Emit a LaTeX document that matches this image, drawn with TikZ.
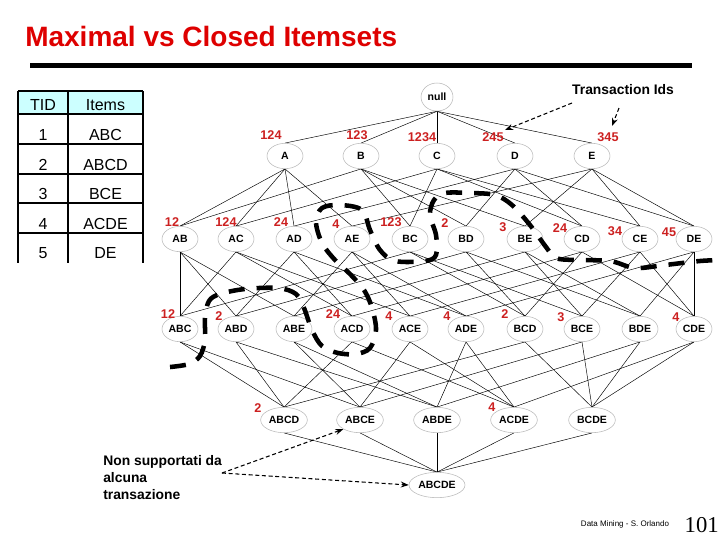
\documentclass[tikz,border=0pt]{standalone}
\usepackage{fontspec}
\setmainfont{Liberation Sans}
\newfontfamily\timesfont{Liberation Serif}
\usetikzlibrary{shapes.geometric,arrows.meta,backgrounds}
\definecolor{numred}{RGB}{204,32,32}
\definecolor{titred}{RGB}{222,0,0}
\definecolor{hdr}{RGB}{204,255,255}
\tikzset{
  itm/.style={ellipse, draw=black!28, line width=0.4pt, fill=white,
    font=\fontsize{7.9}{9}\selectfont\bfseries, inner sep=0pt,
    minimum width=27pt, minimum height=19pt},
  cnt/.style={text=numred, font=\fontsize{9.5}{11}\selectfont\bfseries, inner sep=0pt},
  lnk/.style={line width=0.35pt, black},
  bdr/.style={line width=3.4pt, dash pattern=on 12pt off 9pt, line cap=butt},
  notetxt/.style={font=\fontsize{10.4}{12.75}\selectfont\bfseries, inner sep=0pt},
  ptr/.style={line width=0.8pt, dash pattern=on 3pt off 2pt, -{Stealth[length=6pt,width=4.5pt]}},
  tabtxt/.style={font=\fontsize{12}{14}\selectfont, inner sep=0pt, anchor=base}
}
\begin{document}
\begin{tikzpicture}[x=0.75pt,y=-0.75pt]
\useasboundingbox (0,0) rectangle (720,540);
% title and bar
\node[anchor=base west, inner sep=0pt, text=titred, font=\fontsize{21}{24}\selectfont\bfseries] (title) at (25,46) {Maximal vs Closed Itemsets};
\fill (30,62.5) rectangle (692,67.5);
% table
\fill[hdr] (18,91) rectangle (143,114);
\draw[line width=0.8pt] (18,91) -- (143,91) (18,114) -- (143,114) (18,144) -- (143,144)
  (18,174) -- (143,174) (18,203) -- (143,203) (18,233) -- (143,233)
  (18,91) -- (18,263) (68,91) -- (68,263) (143,91) -- (143,263);
\node[tabtxt] (th1) at (43,110) {TID};
\node[tabtxt] (th2) at (105.5,110) {Items};
\foreach \i/\it/\y in {1/ABC/140,2/ABCD/170,3/BCE/199.5,4/ACDE/229,5/DE/258}{
  \node[tabtxt] (tid\i) at (43,\y) {\i};
  \node[tabtxt] (tit\i) at (105.5,\y) {\it};
}
% lattice nodes
\node[itm, minimum width=24pt, minimum height=21pt] (n0) at (437,97) {null};
\foreach \n/\x in {A/285,B/361,C/437,D/515,E/592}
  \node[itm] (\n) at (\x,156) {\n};
\foreach \n/\x in {AB/180,AC/236,AD/294,AE/352,BC/410,BD/466,BE/525,CD/582,CE/640,DE/694}
  \node[itm] (\n) at (\x,239) {\n};
\foreach \n/\x in {ABC/180,ABD/236,ABE/294,ACD/352,ACE/410,ADE/466,BCD/525,BCE/582,BDE/640,CDE/694}
  \node[itm] (\n) at (\x,329) {\n};
\foreach \n/\x in {ABCD/284,ABCE/360,ABDE/437,ACDE/514,BCDE/592}
  \node[itm, minimum width=35pt] (\n) at (\x,420) {\n};
\node[itm, minimum width=42pt] (ABCDE) at (437,485) {ABCDE};
% edges
\begin{pgfonlayer}{background}
\foreach \u/\l in {n0/A,n0/B,n0/C,n0/D,n0/E,
  A/AB,A/AC,A/AD,A/AE,B/AB,B/BC,B/BD,B/BE,C/AC,C/BC,C/CD,C/CE,D/AD,D/BD,D/CD,D/DE,E/AE,E/BE,E/CE,E/DE,
  AB/ABC,AB/ABD,AB/ABE,AC/ABC,AC/ACD,AC/ACE,AD/ABD,AD/ACD,AD/ADE,AE/ABE,AE/ACE,AE/ADE,
  BC/ABC,BC/BCD,BC/BCE,BD/ABD,BD/BCD,BD/BDE,BE/ABE,BE/BCE,BE/BDE,CD/ACD,CD/BCD,CD/CDE,
  CE/ACE,CE/BCE,CE/CDE,DE/ADE,DE/BDE,DE/CDE,
  ABC/ABCD,ABC/ABCE,ABD/ABCD,ABD/ABDE,ABE/ABCE,ABE/ABDE,ACD/ABCD,ACD/ACDE,ACE/ABCE,ACE/ACDE,
  ADE/ABDE,ADE/ACDE,BCD/ABCD,BCD/BCDE,BCE/ABCE,BCE/BCDE,BDE/ABDE,BDE/BCDE,CDE/ACDE,CDE/BCDE,
  ABCD/ABCDE,ABCE/ABCDE,ABDE/ABCDE,ACDE/ABCDE,BCDE/ABCDE}
  \draw[lnk] (\u.south) -- (\l.north);
\end{pgfonlayer}
% counts
\foreach \k/\t/\x/\y in {a/124/271/135,b/123/357/135,c/1234/422/137,d/245/493/137,e/345/608/137,
  f/12/172/222,g/124/226/222,h/24/281/222,i/4/336/224,j/123/391/222,k/2/445/223,l/3/503/227,m/24/560/228,n/34/615/231,o/45/669/232,
  p/12/168/314,q/2/219/316,r/24/333/314,s/4/389/316,t/4/447/316,u/2/505/314,v/3/561/317,w/4/676/317,
  x/2/258/408,y/4/492/407}
  \node[cnt] (cnt\k) at (\x,\y) {\t};
% border curve
\draw[bdr] plot[smooth, tension=0.55] coordinates {(170,367) (189,364) (200,356) (205,340) (205,318) (209,301) (220,294) (245,289) (278,288) (296,294) (304,308) (312,330) (322,346) (338,353) (356,354) (370,348) (376,330) (372,308) (364,290) (350,274) (335,260) (322,243) (316,222) (322,208) (340,205) (362,210) (370,230) (380,250) (395,261) (425,261) (436,255) (436,235) (430,215) (434,200) (445,193) (470,193) (495,195) (512,205) (530,225) (546,247) (556,258) (575,260) (610,261) (635,268) (665,265) (700,261) (722,260)};
% notes
\node[notetxt] (tids) at (623,90) {Transaction Ids};
\coordinate (tp1) at (572,103);
\coordinate (tp2) at (619,108);
\coordinate (te1) at (505,130);
\coordinate (te2) at (612,126);
\draw[ptr] (tp1) -- (te1);
\draw[ptr] (tp2) -- (te2);
\node[notetxt, anchor=north west, align=left] (nons) at (103,455) {Non supportati da\\alcuna\\transazione};
\coordinate (ns) at (222,473);
\draw[ptr] (ns) -- (ABCE.south west);
\draw[ptr] (ns) -- (ABCDE.west);
% footer
\node[inner sep=0pt, font=\fontsize{6}{7}\selectfont] (foot) at (625,524) {Data Mining - S. Orlando};
\node[inner sep=0pt, anchor=base east, font=\timesfont\fontsize{17}{20}\selectfont] (pg) at (719,532) {101};
\end{tikzpicture}
\end{document}
